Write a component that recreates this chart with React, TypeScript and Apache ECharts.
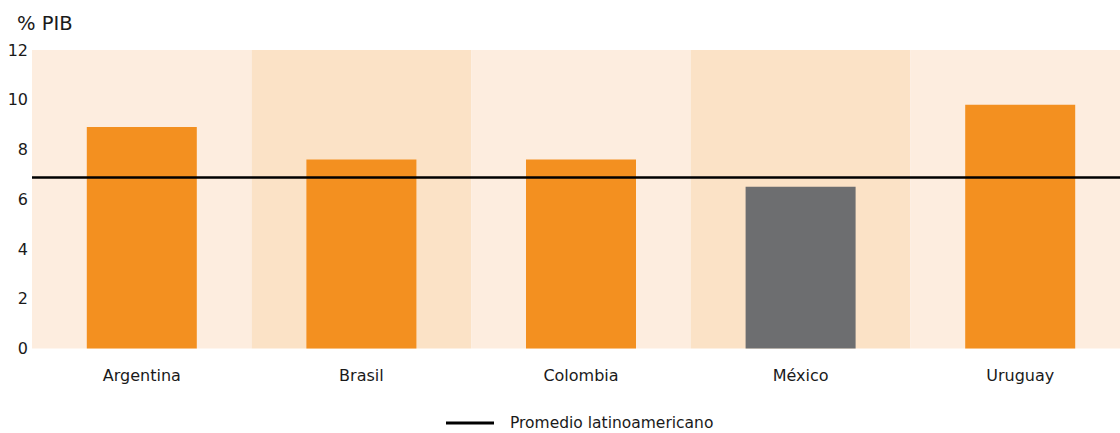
import React, { useEffect, useRef } from "react";
import * as echarts from "echarts";

const categories = ["Argentina", "Brasil", "Colombia", "México", "Uruguay"];
const values = [8.9, 7.6, 7.6, 6.5, 9.8];
const highlight = ["México"];
const averageValue = 6.87;
const averageName = "Promedio latinoamericano";
const yTicks = { min: 0, max: 12, interval: 2 };

const FONT = "DejaVu Sans";

export default function App() {
  const ref = useRef<HTMLDivElement>(null);
  useEffect(() => {
    document.body.style.margin = "0";
    const chart = echarts.init(ref.current!, undefined, { renderer: "svg" });
    chart.setOption({
      animation: false,
      textStyle: { fontFamily: FONT },
      title: {
        text: "% PIB",
        left: 12,
        top: 8,
        textStyle: { fontFamily: FONT, fontSize: 19.5, fontWeight: "normal", color: "#1a1a1a" },
      },
      grid: { left: 32, right: 0, top: 50, bottom: 84.5, containLabel: false },
      legend: {
        left: 446,
        top: 415,
        padding: 0,
        data: [{ name: averageName, icon: "rect" }],
        itemWidth: 48,
        itemHeight: 3,
        itemGap: 10,
        textStyle: {
          fontFamily: FONT,
          fontSize: 15.5,
          lineHeight: 16,
          color: "#1a1a1a",
          padding: [0, 0, 0, 11],
        },
      },
      xAxis: {
        type: "category",
        data: categories,
        axisLine: { show: false },
        axisTick: { show: false },
        axisLabel: { margin: 19, fontSize: 16, color: "#1a1a1a", fontFamily: FONT },
        splitArea: { show: true, areaStyle: { color: ["#FDEDDF", "#FBE2C6"] } },
      },
      yAxis: {
        type: "value",
        min: yTicks.min,
        max: yTicks.max,
        interval: yTicks.interval,
        axisLine: { show: false },
        axisTick: { show: false },
        axisLabel: { margin: 4, fontSize: 16, color: "#1a1a1a", fontFamily: FONT },
        splitLine: { show: true, lineStyle: { color: "#ffffff", width: 1.2 } },
      },
      series: [
        {
          type: "bar",
          name: "PIB",
          barWidth: 110,
          data: categories.map((c, i) => ({
            value: values[i],
            itemStyle: { color: highlight.includes(c) ? "#6D6E70" : "#F39020" },
          })),
          z: 2,
        },
        {
          type: "line",
          name: averageName,
          data: [],
          itemStyle: { color: "#000000" },
          lineStyle: { color: "#000000", width: 2.5 },
          markLine: {
            silent: true,
            symbol: ["none", "none"],
            label: { show: false },
            lineStyle: { color: "#000000", width: 2.5, type: "solid" },
            data: [{ yAxis: averageValue }],
          },
          z: 5,
        },
      ],
    });
    return () => chart.dispose();
  }, []);
  return (
    <div style={{ width: 1120, height: 433, overflow: "hidden" }}>
      <div ref={ref} style={{ width: 1130, height: 433 }} />
    </div>
  );
}
